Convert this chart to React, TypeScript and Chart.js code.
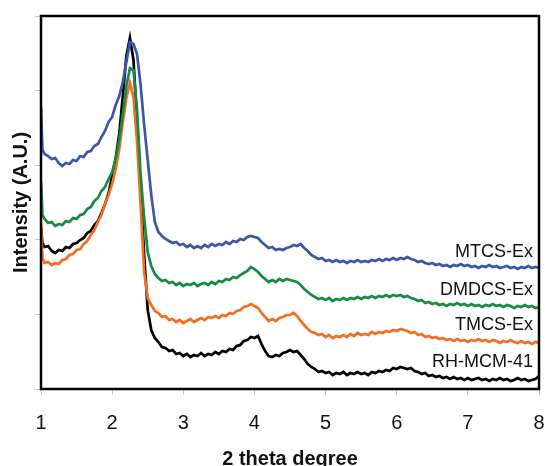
import { useEffect, useRef } from 'react';
import { Chart, registerables } from 'chart.js';

Chart.register(...registerables);

// 2-theta positions (degree)
const THETA = [
  1, 1.02, 1.05, 1.1, 1.15, 1.2, 1.25, 1.3, 1.35, 1.4, 1.45, 1.5, 1.55, 1.6, 1.65, 1.7, 1.75, 1.8, 1.85, 1.9, 1.95,
  2, 2.05, 2.1, 2.15, 2.2, 2.25, 2.3, 2.35, 2.4, 2.45, 2.5, 2.55, 2.6, 2.65, 2.7, 2.75, 2.8, 2.85, 2.9, 2.95,
  3, 3.05, 3.1, 3.15, 3.2, 3.25, 3.3, 3.35, 3.4, 3.45, 3.5, 3.55, 3.6, 3.65, 3.7, 3.75, 3.8, 3.85, 3.9, 3.95,
  4, 4.05, 4.1, 4.15, 4.2, 4.25, 4.3, 4.35, 4.4, 4.45, 4.5, 4.55, 4.6, 4.65, 4.7, 4.75, 4.8, 4.85, 4.9, 4.95,
  5, 5.05, 5.1, 5.15, 5.2, 5.25, 5.3, 5.35, 5.4, 5.45, 5.5, 5.55, 5.6, 5.65, 5.7, 5.75, 5.8, 5.85, 5.9, 5.95,
  6, 6.05, 6.1, 6.15, 6.2, 6.25, 6.3, 6.35, 6.4, 6.45, 6.5, 6.55, 6.6, 6.65, 6.7, 6.75, 6.8, 6.85, 6.9, 6.95,
  7, 7.05, 7.1, 7.15, 7.2, 7.25, 7.3, 7.35, 7.4, 7.45, 7.5, 7.55, 7.6, 7.65, 7.7, 7.75, 7.8, 7.85, 7.9, 7.95,
  8,
];

const MTCS_EX = [
  282, 239, 235, 233, 230, 231, 226, 223, 226, 225, 229, 228, 233, 232, 237, 238, 243, 245, 252, 258, 267,
  272, 284, 293, 307, 327, 347, 345, 335, 304, 264, 229, 194, 167, 157, 153, 150, 148, 146, 147, 144,
  145, 142, 144, 141, 143, 141, 144, 142, 145, 143, 145, 144, 147, 145, 148, 147, 150, 149, 152, 153,
  152, 151, 147, 144, 141, 142, 139, 140, 139, 141, 142, 144, 143, 145, 141, 138, 134, 132, 130, 131,
  128, 129, 127, 129, 127, 128, 126, 128, 127, 129, 127, 128, 127, 129, 128, 130, 128, 130, 129, 131,
  129, 131, 130, 132, 130, 129, 127, 128, 126, 125, 126, 124, 125, 123, 124, 122, 124, 123, 125, 123,
  124, 122, 123, 121, 123, 122, 124, 122, 123, 121, 122, 123, 121, 122, 120, 122, 121, 123, 121, 122,
  121,
];

const DMDCS_EX = [
  207, 174, 170, 166, 167, 163, 165, 164, 168, 167, 171, 170, 174, 175, 180, 182, 188, 191, 198, 202, 210,
  217, 230, 249, 275, 303, 321, 319, 279, 215, 171, 137, 123, 115, 111, 108, 109, 106, 107, 104, 106,
  103, 105, 104, 106, 103, 105, 106, 104, 107, 105, 108, 107, 110, 109, 112, 111, 114, 116, 118, 122,
  120, 117, 113, 110, 107, 109, 107, 110, 108, 110, 109, 108, 107, 104, 100, 97, 94, 92, 90, 91,
  89, 91, 88, 90, 89, 91, 89, 91, 90, 92, 90, 92, 91, 93, 91, 93, 92, 94, 92, 94,
  93, 94, 92, 93, 91, 90, 88, 89, 86, 87, 85, 86, 84, 85, 83, 85, 84, 86, 84, 85,
  83, 85, 83, 84, 82, 84, 83, 85, 83, 84, 82, 84, 83, 81, 83, 82, 84, 82, 83, 81,
  82,
];

const TMCS_EX = [
  167, 131, 126, 127, 124, 126, 125, 129, 130, 134, 135, 139, 140, 145, 148, 154, 159, 167, 174, 185, 194,
  205, 220, 240, 267, 291, 306, 292, 247, 184, 117, 91, 84, 78, 76, 72, 73, 69, 70, 67, 69,
  66, 68, 70, 67, 69, 71, 69, 72, 71, 73, 71, 74, 73, 76, 75, 78, 79, 82, 83, 85,
  83, 81, 76, 72, 68, 70, 68, 71, 72, 74, 74, 76, 73, 68, 64, 60, 57, 56, 54, 55,
  52, 54, 51, 53, 52, 54, 52, 55, 53, 56, 54, 55, 54, 57, 55, 57, 56, 58, 57, 59,
  58, 60, 59, 58, 56, 57, 54, 55, 52, 53, 51, 52, 50, 51, 49, 50, 48, 50, 48, 49,
  47, 49, 48, 50, 48, 49, 47, 49, 48, 46, 48, 47, 49, 47, 46, 48, 46, 47, 45, 47,
  46,
];

const RH_MCM_41 = [
  161, 146, 142, 143, 138, 136, 139, 138, 142, 141, 145, 146, 149, 151, 156, 158, 164, 168, 176, 185, 196,
  213, 231, 255, 293, 333, 351, 329, 267, 201, 134, 79, 59, 51, 47, 42, 41, 38, 39, 35, 36,
  33, 35, 32, 34, 33, 36, 33, 35, 34, 37, 35, 38, 37, 40, 39, 43, 44, 48, 49, 52,
  51, 53, 45, 38, 33, 32, 34, 33, 36, 37, 39, 37, 38, 34, 30, 25, 22, 20, 17, 18,
  16, 17, 14, 16, 15, 17, 14, 16, 15, 17, 15, 16, 14, 17, 16, 18, 17, 19, 18, 21,
  20, 22, 21, 20, 21, 18, 17, 15, 16, 13, 14, 12, 13, 11, 12, 10, 12, 10, 11, 9,
  11, 9, 10, 11, 9, 10, 8, 10, 9, 11, 9, 10, 8, 9, 11, 9, 10, 8, 9, 10,
  13,
];

const SERIES_NAMES = ['MTCS-Ex', 'DMDCS-Ex', 'TMCS-Ex', 'RH-MCM-41'];
const SERIES_COLORS = ['#3E56A8', '#178A44', '#F26E24', '#000000'];
const LABEL_LEVELS = [137, 99, 64, 27];

const X_MIN = 1;
const X_MAX = 8;
const Y_MIN = 0;
const Y_MAX = 373;
const Y_STEP = 74.6;

const FONT = '"Liberation Sans", Arial, Helvetica, sans-serif';

const framePlugin = {
  id: 'frameAndLabels',
  afterDatasetsDraw(chart: any) {
    const { ctx, chartArea: a, scales } = chart;
    ctx.save();
    ctx.strokeStyle = '#000';
    ctx.lineWidth = 2.5;
    ctx.strokeRect(a.left, a.top, a.right - a.left, a.bottom - a.top);
    ctx.font = `18px ${FONT}`;
    ctx.fillStyle = '#111';
    ctx.textAlign = 'right';
    ctx.textBaseline = 'middle';
    SERIES_NAMES.forEach((name, i) => {
      ctx.fillText(name, a.right - 6, scales.y.getPixelForValue(LABEL_LEVELS[i]));
    });
    ctx.restore();
  },
};

export default function App() {
  const ref = useRef<HTMLCanvasElement | null>(null);

  useEffect(() => {
    if (!ref.current) return;
    const seriesValues = [MTCS_EX, DMDCS_EX, TMCS_EX, RH_MCM_41];
    const chart = new Chart(ref.current, {
      type: 'line',
      data: {
        datasets: seriesValues.map((vals, s) => ({
          label: SERIES_NAMES[s],
          data: THETA.map((t, i) => ({ x: t, y: vals[i] })),
          borderColor: SERIES_COLORS[s],
          borderWidth: 2.7,
          pointRadius: 0,
          tension: 0,
          fill: false,
        })),
      },
      options: {
        responsive: false,
        animation: false,
        layout: { padding: { left: 0, top: 16, right: 6, bottom: 0 } },
        plugins: {
          legend: { display: false },
          tooltip: { enabled: false },
        },
        scales: {
          x: {
            type: 'linear',
            min: X_MIN,
            max: X_MAX,
            afterFit: (scale: any) => {
              scale.height = 83;
              scale.paddingLeft = 0;
              scale.paddingRight = 0;
            },
            border: { display: false },
            grid: {
              drawOnChartArea: false,
              drawTicks: true,
              tickLength: 6,
              color: '#c4c4c4',
              lineWidth: 1,
            },
            ticks: {
              stepSize: 1,
              padding: 16,
              color: '#111',
              font: { family: FONT, size: 20 },
              maxRotation: 0,
            },
            title: {
              display: true,
              text: '2 theta degree',
              color: '#111',
              font: { family: FONT, size: 20, weight: 'bold' },
              padding: { top: 0, bottom: 1 },
            },
          },
          y: {
            type: 'linear',
            min: Y_MIN,
            max: Y_MAX,
            afterFit: (scale: any) => {
              scale.width = 41;
              scale.paddingTop = 0;
              scale.paddingBottom = 0;
            },
            border: { display: false },
            grid: {
              drawOnChartArea: false,
              drawTicks: true,
              tickLength: 6,
              color: '#c4c4c4',
              lineWidth: 1,
            },
            ticks: {
              stepSize: Y_STEP,
              display: false,
            },
            title: {
              display: true,
              text: 'Intensity (A.U.)',
              color: '#111',
              font: { family: FONT, size: 20, weight: 'bold' },
              padding: { top: 9, bottom: 0 },
            },
          },
        },
      },
      plugins: [framePlugin],
    });
    return () => chart.destroy();
  }, []);

  return (
    <div style={{ position: 'fixed', left: 0, top: 0, width: 545, height: 466, overflow: 'hidden', background: '#fff' }}>
      <canvas ref={ref} width={545} height={472} style={{ display: 'block' }} />
    </div>
  );
}
